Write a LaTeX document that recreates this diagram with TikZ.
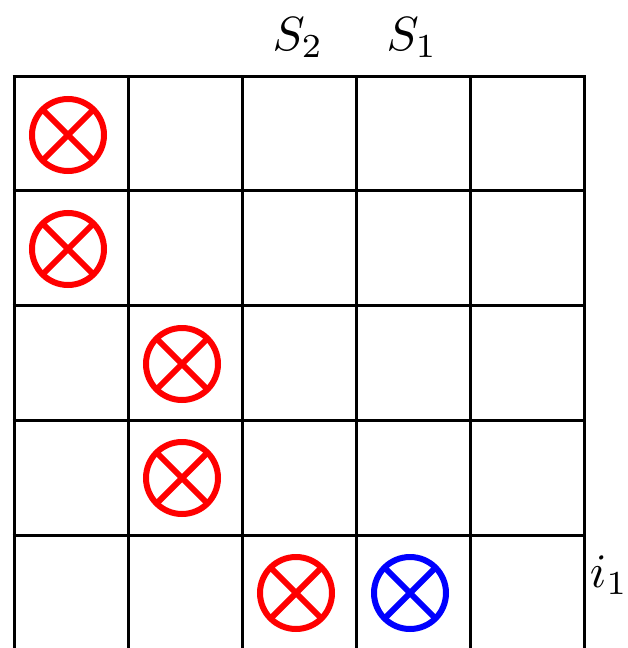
\documentclass[tikz,border=0pt]{standalone}
\usepackage{graphicx}
\newcommand{\lbl}[2]{\scalebox{4.8}{$#1_{#2}$}}
\begin{document}
\begin{tikzpicture}[x=1pt,y=-1pt,
  gridline/.style={line width=3pt,black},
  otimes/.style={circle,draw=#1,line width=6pt,minimum size=72pt,inner sep=0pt,
    path picture={\draw[#1,line width=6pt]
      (path picture bounding box.north west)--(path picture bounding box.south east)
      (path picture bounding box.north east)--(path picture bounding box.south west);}},
  lab/.style={inner sep=0pt,anchor=base}]
\useasboundingbox (0,0) rectangle (627,648);
% grid
\foreach \x in {14,128,242,356,470,584}
  \draw[gridline] (\x,76) -- (\x,648);
\foreach \y in {76,190.5,305,420,535}
  \draw[gridline] (12.5,\y) -- (585.5,\y);
% markers
\node[otimes=red] (a) at (68,135) {};
\node[otimes=red] (b) at (68,249) {};
\node[otimes=red] (c) at (182,364) {};
\node[otimes=red] (d) at (182,478) {};
\node[otimes=red] (e) at (296,593) {};
\node[otimes=blue] (f) at (410,593) {};
% labels
\node[lab] (s2) at (298,50) {\lbl{S}{2}};
\node[lab] (s1) at (412,50) {\lbl{S}{1}};
\node[lab] (i1) at (609,587) {\lbl{i}{1}};
\end{tikzpicture}
\end{document}
